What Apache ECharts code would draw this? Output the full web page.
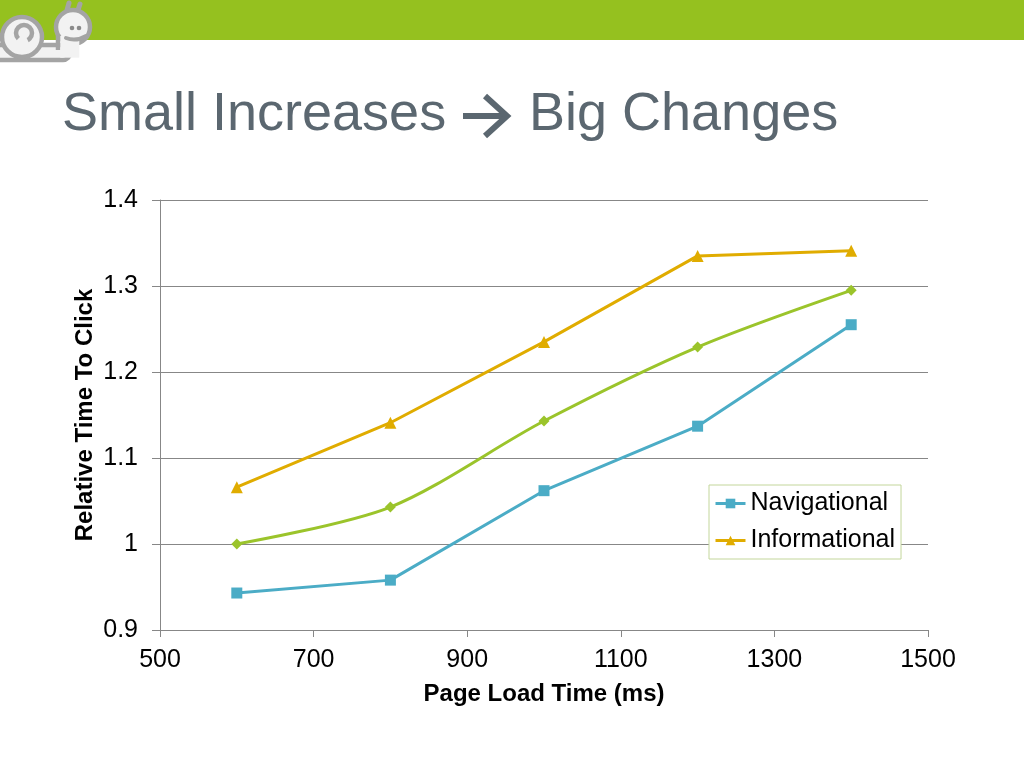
<!DOCTYPE html>
<html>
<head>
<meta charset="utf-8">
<script src="https://cdn.jsdelivr.net/npm/echarts@6/dist/echarts.min.js"></script>
<style>
html,body{margin:0;padding:0;background:#fff;}
#c{width:1024px;height:768px;}
</style>
</head>
<body>
<div id="c"></div>
<script>
var loadTimes = [600, 800, 1000, 1200, 1400];
var navigational = [0.943, 0.958, 1.062, 1.137, 1.255];
var informational = [1.066, 1.141, 1.235, 1.335, 1.341];
var overall = [1.000, 1.043, 1.143, 1.229, 1.295];
var xTicks = [500, 1500, 200];
var yTicks = [0.9, 1.4, 0.1];

function pairs(xs, ys) { return xs.map(function (x, i) { return [x, ys[i]]; }); }

var FONT = '"Liberation Sans", Arial, sans-serif';
var GRAY = '#a4a4a4';
var SNAIL = '#f2f2f2';
var chart = echarts.init(document.getElementById('c'));
chart.setOption({
  backgroundColor: '#ffffff',
  animation: false,
  textStyle: { fontFamily: FONT },
  graphic: [
    { type: 'rect', shape: { x: 0, y: 0, width: 1024, height: 40 }, style: { fill: '#95c11f' }, silent: true },
    // snail logo
    { type: 'rect', shape: { x: -14, y: 45, width: 84, height: 15, r: 7 }, style: { fill: SNAIL, stroke: GRAY, lineWidth: 4.5 } },
    { type: 'circle', shape: { cx: 22, cy: 37, r: 20 }, style: { fill: SNAIL, stroke: GRAY, lineWidth: 4.5 } },
    { type: 'arc', shape: { cx: 24, cy: 33, r: 8, startAngle: Math.PI * 0.75, endAngle: Math.PI * 2.35 }, style: { fill: 'none', stroke: GRAY, lineWidth: 4.5 } },
    { type: 'line', shape: { x1: 66, y1: 14, x2: 69, y2: 3 }, style: { stroke: GRAY, lineWidth: 5, lineCap: 'round' } },
    { type: 'line', shape: { x1: 77, y1: 13, x2: 80, y2: 4 }, style: { stroke: GRAY, lineWidth: 5, lineCap: 'round' } },
    { type: 'circle', shape: { cx: 73, cy: 27, r: 17 }, style: { fill: SNAIL, stroke: GRAY, lineWidth: 4.5 } },
    { type: 'line', shape: { x1: 58, y1: 34, x2: 58, y2: 50 }, style: { stroke: GRAY, lineWidth: 4.5 } },
    { type: 'rect', shape: { x: 60.3, y: 36, width: 19, height: 21.7 }, style: { fill: SNAIL } },
    { type: 'circle', shape: { cx: 72, cy: 28, r: 2.3 }, style: { fill: '#8a8a8a' } },
    { type: 'circle', shape: { cx: 79, cy: 28, r: 2.3 }, style: { fill: '#8a8a8a' } },
    { type: 'bezierCurve', shape: { x1: 66, y1: 38, cpx1: 76, cpy1: 42, x2: 86, y2: 36 }, style: { fill: 'none', stroke: GRAY, lineWidth: 4, lineCap: 'round' } },
    // title
    { type: 'text', left: 62, top: 88, style: { text: 'Small Increases', font: '54px ' + FONT, fill: '#5b6770' } },
    { type: 'line', shape: { x1: 463, y1: 116, x2: 506, y2: 116 }, style: { stroke: '#5b6770', lineWidth: 6 } },
    { type: 'polyline', shape: { points: [[485, 96], [507, 116], [485, 136]] }, style: { stroke: '#5b6770', lineWidth: 6, fill: 'none' } },
    { type: 'text', left: 529, top: 88, style: { text: 'Big Changes', font: '54px ' + FONT, fill: '#5b6770' } }
  ],
  grid: { left: 160, top: 200, width: 768, height: 430 },
  legend: {
    data: ['Navigational', 'Informational'],
    orient: 'vertical',
    left: 709, top: 485,
    padding: [6, 6, 6, 5],
    itemGap: 12,
    itemWidth: 30, itemHeight: 12,
    borderColor: '#c3d69b', borderWidth: 1,
    backgroundColor: '#fff',
    lineStyle: { width: 3 },
    textStyle: { fontSize: 25, color: '#000', fontFamily: FONT }
  },
  xAxis: {
    type: 'value', min: xTicks[0], max: xTicks[1], interval: xTicks[2],
    name: 'Page Load Time (ms)', nameLocation: 'middle', nameGap: 52,
    nameTextStyle: { fontSize: 24, fontWeight: 'bold', color: '#000', fontFamily: FONT },
    axisLine: { show: true, lineStyle: { color: '#878787', width: 1 } },
    axisTick: { show: true, length: 7, lineStyle: { color: '#878787' } },
    axisLabel: { fontSize: 25, color: '#000', margin: 18, fontFamily: FONT, formatter: function (v) { return String(v); } },
    splitLine: { show: false }
  },
  yAxis: {
    type: 'value', min: yTicks[0], max: yTicks[1], interval: yTicks[2],
    name: 'Relative Time To Click', nameLocation: 'middle', nameGap: 63, nameRotate: 90,
    nameMoveOverlap: false,
    nameTextStyle: { fontSize: 24, fontWeight: 'bold', color: '#000', fontFamily: FONT },
    axisLine: { show: true, lineStyle: { color: '#878787', width: 1 } },
    axisTick: { show: true, length: 8, lineStyle: { color: '#878787' } },
    axisLabel: { fontSize: 25, color: '#000', margin: 22, fontFamily: FONT },
    splitLine: { show: true, lineStyle: { color: '#878787', width: 1 } }
  },
  series: [
    {
      name: 'Overall', type: 'line', data: pairs(loadTimes, overall), smooth: 0.3,
      symbol: 'diamond', symbolSize: 11,
      lineStyle: { color: '#9bc42b', width: 3 }, itemStyle: { color: '#9bc42b' }
    },
    {
      name: 'Navigational', type: 'line', data: pairs(loadTimes, navigational),
      symbol: 'rect', symbolSize: 11,
      lineStyle: { color: '#4bacc6', width: 3 }, itemStyle: { color: '#4bacc6' }
    },
    {
      name: 'Informational', type: 'line', data: pairs(loadTimes, informational),
      symbol: 'triangle', symbolSize: 12,
      lineStyle: { color: '#e0ac00', width: 3 }, itemStyle: { color: '#e0ac00' }
    }
  ]
});
</script>
</body>
</html>
